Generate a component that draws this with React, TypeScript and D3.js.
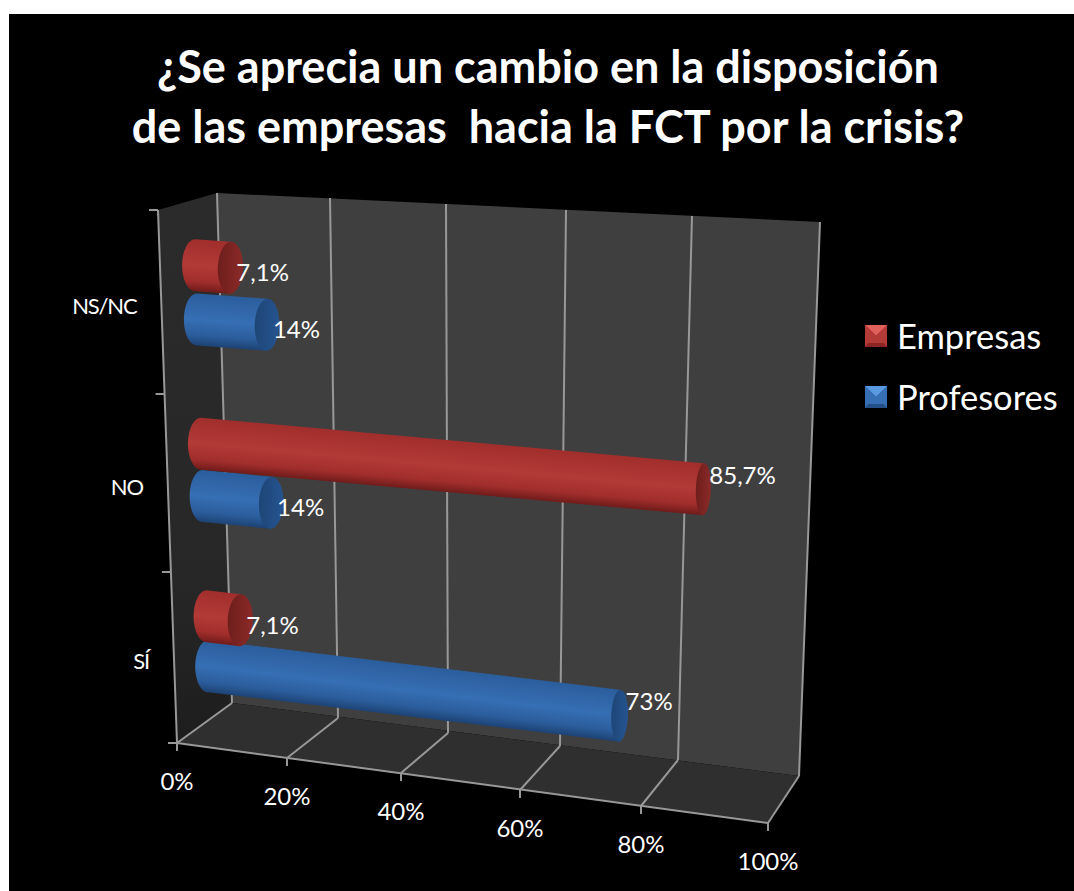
import React from "react";
import * as d3 from "d3";

const titleLines = ["¿Se aprecia un cambio en la disposición", "de las empresas  hacia la FCT por la crisis?"];
const categories = ["SÍ", "NO", "NS/NC"];
const seriesNames = ["Profesores", "Empresas"];
const profesores = [73, 14, 14];
const empresas = [7.1, 85.7, 7.1];
const empresasLabels = ["7,1%", "85,7%", "7,1%"];
const profesoresLabels = ["73%", "14%", "14%"];
const ticks = [0, 20, 40, 60, 80, 100];

const W = 1074, H = 891;
const FONT = "Lato, Carlito, 'Open Sans', sans-serif";

// perspective-corrected edges of the 3D box, as value scales
const frontX = d3.scaleLinear<number>().domain(ticks).range([177, 287, 401, 520, 641, 768]);
const frontY = d3.scaleLinear<number>().domain(ticks).range([743, 758, 773, 790, 806, 823]);
const backX = d3.scaleLinear<number>().domain(ticks).range([232, 338, 448, 560, 678, 799]);
const backY = d3.scaleLinear<number>().domain(ticks).range([703, 718, 733, 746, 760, 776]);
const topX = d3.scaleLinear<number>().domain(ticks).range([217, 330, 446, 566, 692, 820]);
const topY = d3.scaleLinear<number>().domain(ticks).range([193, 198, 204, 210, 216, 222]);
const leftTickY = d3.scaleLinear<number>().domain([0, 1, 2, 3]).range([743, 572, 394, 210]);
const leftTickX = d3.scaleLinear<number>().domain([743, 210]).range([177, 158]);

// mid-depth plane holding the cylinders
const uScale = d3.scaleLinear<number>().domain(ticks).range([0, 0.168, 0.37, 0.58, 0.785, 1]);
const hScale = d3.scaleLinear<number>().domain([0, 0.5, 1.5, 2.5, 3]).range([0, 0.155, 0.484, 0.824, 1]);
const mid0X = d3.scaleLinear<number>().domain([0, 1]).range([209, 192]);
const mid0Y = d3.scaleLinear<number>().domain([0, 1]).range([723, 201]);
const mid1X = d3.scaleLinear<number>().domain([0, 1]).range([783, 805]);
const mid1Y = d3.scaleLinear<number>().domain([0, 1]).range([796, 238]);
const rxScale = d3.scaleLinear<number>().domain([0, 1]).range([13, 6.5]);
const RY = 26;

function planePoint(v: number, pos: number) {
  const u = uScale(v);
  const h = hScale(pos);
  const x0 = mid0X(h), y0 = mid0Y(h), x1 = mid1X(h), y1 = mid1Y(h);
  return { x: x0 + (x1 - x0) * u, y: y0 + (y1 - y0) * u, u };
}

const pts = (a: number[][]) => a.map((p) => p.join(",")).join(" ");
const GRID = "#989898";

const palette: Record<string, { hi: string; mid: string; lo: string; cap: string; capLo: string; light: string; dark: string }> = {
  Empresas: { hi: "#a12e2c", mid: "#b23a37", lo: "#6f1b1a", cap: "#8a2a28", capLo: "#6e1e1c", light: "#e0605c", dark: "#8e2523" },
  Profesores: { hi: "#2b5d9c", mid: "#366fb4", lo: "#1d4273", cap: "#265490", capLo: "#1e4677", light: "#5a9ae0", dark: "#24508a" },
};

function Cylinder({ id, name, value, pos, label }: { id: string; name: string; value: number; pos: number; label: string }) {
  const c = palette[name];
  const a = planePoint(0, pos);
  const b = planePoint(value, pos);
  const rxA = rxScale(a.u), rxB = rxScale(b.u);
  const angle = (Math.atan2(b.y - a.y, b.x - a.x) * 180) / Math.PI;
  const d = [
    `M${a.x + 1},${a.y - RY}`,
    `L${b.x},${b.y - RY}`,
    `L${b.x},${b.y + RY}`,
    `L${a.x + 1},${a.y + RY}`,
    `A${rxA},${RY} 0 0 1 ${a.x + 1},${a.y - RY}`,
    "Z",
  ].join(" ");
  const mx = (a.x + b.x) / 2, my = (a.y + b.y) / 2;
  const nx = -(b.y - a.y), ny = b.x - a.x, nl = Math.hypot(nx, ny);
  const gx = (nx / nl) * RY, gy = (ny / nl) * RY;
  const labelDy = b.u > 0.5 ? -15 : 4;
  return (
    <g>
      <defs>
        <linearGradient id={id} gradientUnits="userSpaceOnUse" x1={mx - gx} y1={my - gy} x2={mx + gx} y2={my + gy}>
          <stop offset="0" stopColor={c.hi} />
          <stop offset="0.5" stopColor={c.mid} />
          <stop offset="0.8" stopColor={c.hi} />
          <stop offset="1" stopColor={c.lo} />
        </linearGradient>
        <linearGradient id={id + "c"} x1="0" x2="1" y1="0" y2="0">
          <stop offset="0" stopColor={c.capLo} />
          <stop offset="1" stopColor={c.cap} />
        </linearGradient>
      </defs>
      <path d={d} fill={`url(#${id})`} />
      <ellipse cx={b.x} cy={b.y} rx={rxB} ry={RY} fill={`url(#${id}c)`} transform={`rotate(${angle > 0 ? 2 : 0} ${b.x} ${b.y})`} />
      <text x={b.x + 6} y={b.y + labelDy} dominantBaseline="central" fill="#fff" fontSize={24} fontFamily={FONT}>
        {label}
      </text>
    </g>
  );
}

function LegendMark({ x, y, name }: { x: number; y: number; name: string }) {
  const c = palette[name];
  const s = 22;
  return (
    <g>
      <rect x={x} y={y} width={s} height={s} fill={c.mid} />
      <polygon points={pts([[x, y], [x + s, y], [x + s / 2, y + s * 0.48]])} fill={c.light} />
      <polygon points={pts([[x, y], [x + s / 2, y + s * 0.48], [x + 3, y + s - 3], [x, y + s]])} fill={c.mid} />
      <polygon points={pts([[x + 3, y + s - 4], [x + s - 3, y + s - 4], [x + s, y + s], [x, y + s]])} fill={c.dark} />
    </g>
  );
}

export default function App() {
  const legendItems = [
    { name: "Empresas", y: 325, ty: 335 },
    { name: "Profesores", y: 386, ty: 396 },
  ];
  return (
    <svg width={W} height={H} viewBox={`0 0 ${W} ${H}`} style={{ position: "absolute", left: 0, top: 0, background: "#fff" }}>
      <defs>
        <linearGradient id="leftWall" x1="0" x2="0" y1="0" y2="1">
          <stop offset="0" stopColor="#2b2b2b" />
          <stop offset="0.7" stopColor="#272727" />
          <stop offset="1" stopColor="#1d1d1d" />
        </linearGradient>
      </defs>
      <rect x={9} y={14} width={W - 9} height={H - 14} fill="#000" />

      {titleLines.map((t, i) => (
        <text key={i} x={548} y={83 + i * 60} textAnchor="middle" fill="#fff" fontFamily={FONT} fontWeight={700} fontSize={45} style={{ whiteSpace: "pre" }}>
          {t}
        </text>
      ))}

      {/* walls */}
      <polygon
        points={pts([[leftTickX(210), 210], [topX(0), topY(0)], [backX(0), backY(0)], [frontX(0), frontY(0)]])}
        fill="url(#leftWall)"
      />
      <polygon
        points={pts([[topX(0), topY(0)], [topX(100), topY(100)], [backX(100), backY(100)], [backX(0), backY(0)]])}
        fill="#3f3f3f"
      />
      <polygon
        points={pts([[backX(0), backY(0)], [backX(100), backY(100)], [frontX(100), frontY(100)], [frontX(0), frontY(0)]])}
        fill="#2f2f2f"
      />

      {/* grid */}
      {ticks.map((t) => (
        <g key={t} stroke={GRID} fill="none" strokeWidth={2}>
          <line x1={topX(t)} y1={topY(t)} x2={backX(t)} y2={backY(t)} />
          <line x1={backX(t)} y1={backY(t)} x2={frontX(t)} y2={frontY(t)} />
          <line x1={frontX(t)} y1={frontY(t)} x2={frontX(t)} y2={frontY(t) + 8} />
        </g>
      ))}
      <line x1={frontX(0)} y1={frontY(0)} x2={frontX(100)} y2={frontY(100)} stroke={GRID} strokeWidth={2} />
      <line x1={leftTickX(210)} y1={210} x2={frontX(0)} y2={frontY(0)} stroke={GRID} strokeWidth={2} />
      {d3.range(0, categories.length + 1).map((k) => {
        const y = leftTickY(k);
        return <line key={k} x1={leftTickX(y) - 9} y1={y} x2={leftTickX(y)} y2={y} stroke={GRID} strokeWidth={2} />;
      })}

      {/* tick labels */}
      {ticks.map((t) => (
        <text key={t} x={frontX(t)} y={frontY(t) + 37} textAnchor="middle" dominantBaseline="central" fill="#fff" fontSize={24} fontFamily={FONT}>
          {t}%
        </text>
      ))}
      {categories.map((c, i) => {
        const y = (leftTickY(i) + leftTickY(i + 1)) / 2 + 3;
        return (
          <text key={c} x={leftTickX(y) - 25} y={y} textAnchor="end" dominantBaseline="central" fill="#fff" fontSize={22} letterSpacing={-1.2} fontFamily={FONT}>
            {c}
          </text>
        );
      })}

      {/* cylinders */}
      {categories.map((c, i) => (
        <g key={c}>
          <Cylinder id={`p${i}`} name={seriesNames[0]} value={profesores[i]} pos={i + 0.5 - 0.15} label={profesoresLabels[i]} />
          <Cylinder id={`e${i}`} name={seriesNames[1]} value={empresas[i]} pos={i + 0.5 + 0.15} label={empresasLabels[i]} />
        </g>
      ))}

      {/* legend */}
      {legendItems.map((l) => (
        <g key={l.name}>
          <LegendMark x={865} y={l.y} name={l.name} />
          <text x={897} y={l.ty} dominantBaseline="central" fill="#fff" fontSize={34.5} fontFamily={FONT}>
            {l.name}
          </text>
        </g>
      ))}
    </svg>
  );
}
